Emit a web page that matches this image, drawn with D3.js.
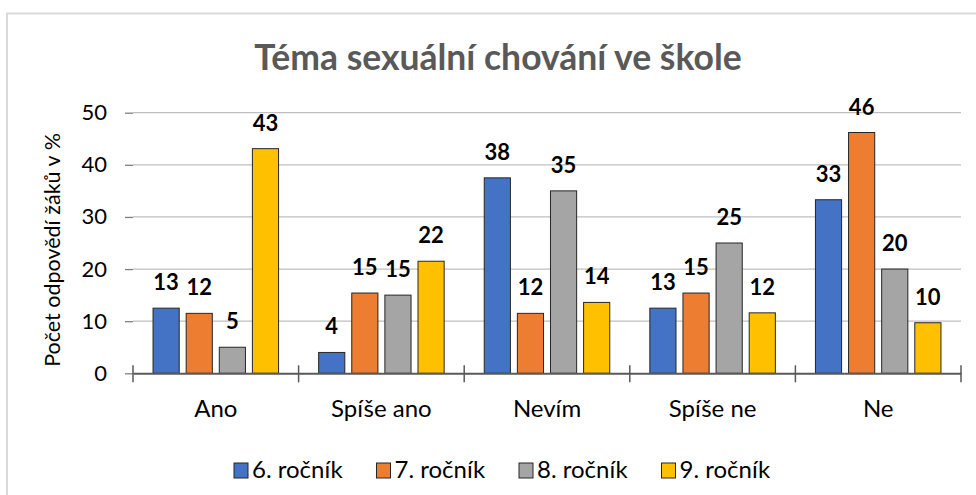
<!DOCTYPE html>
<html>
<head>
<meta charset="utf-8">
<script src="https://cdn.jsdelivr.net/npm/d3@7"></script>
<style>
  body { margin: 0; background: #fff; }
  svg { display: block; font-family: Lato, "Open Sans", sans-serif; }
</style>
</head>
<body>
<div id="chart"></div>
<script>
const width = 976;
const height = 495;

// data
const categories = ["Ano", "Spíše ano", "Nevím", "Spíše ne", "Ne"];
const seriesNames = ["6. ročník", "7. ročník", "8. ročník", "9. ročník"];
const grade6 = [12.5, 4.0, 37.5, 12.5, 33.3];
const grade7 = [11.5, 15.4, 11.5, 15.4, 46.2];
const grade8 = [5.0, 15.0, 35.0, 25.0, 20.0];
const grade9 = [43.1, 21.5, 13.6, 11.6, 9.7];
const yTicks = [0, 10, 20, 30, 40, 50];

const colors = ["#4472C4", "#ED7D31", "#A5A5A5", "#FFC000"];
const seriesValues = [grade6, grade7, grade8, grade9];

const svg = d3.select("#chart")
              .append("svg")
              .attr("width", width)
              .attr("height", height);

svg.append("rect")
   .attr("width", width).attr("height", height)
   .attr("fill", "#fff");

// chart area border
svg.append("rect")
   .attr("x", 7).attr("y", 13.5)
   .attr("width", 990).attr("height", 500)
   .attr("fill", "none")
   .attr("stroke", "#d9d9d9")
   .attr("stroke-width", 2);

const plotLeft = 133, plotRight = 961;
const y = d3.scaleLinear().domain([0, 50]).range([373.3, 112.7]);
const x0 = d3.scaleBand().domain(categories).range([plotLeft, plotRight]);
const x1 = d3.scaleBand()
             .domain(seriesNames)
             .range([x0.bandwidth() * 0.1, x0.bandwidth() * 0.9])
             .paddingInner(0.21)
             .paddingOuter(0.105);

// title
svg.append("text")
   .attr("x", 498).attr("y", 70)
   .attr("text-anchor", "middle")
   .attr("font-size", 35.5)
   .attr("font-weight", "bold")
   .attr("fill", "#595959")
   .text("Téma sexuální chování ve škole");

// gridlines
svg.append("g")
   .selectAll("line")
   .data(yTicks.filter(d => d > 0))
   .enter()
   .append("line")
   .attr("x1", plotLeft).attr("x2", plotRight)
   .attr("y1", d => y(d)).attr("y2", d => y(d))
   .attr("stroke", "#bfbfbf")
   .attr("stroke-width", 1.3);

// y axis
const yAxis = svg.append("g")
   .attr("transform", `translate(${plotLeft},0)`)
   .call(d3.axisLeft(y).tickValues(yTicks).tickSize(8).tickPadding(18));
yAxis.select(".domain").remove();
yAxis.selectAll(".tick line").attr("stroke", "#7f7f7f").attr("stroke-width", 1.3);
yAxis.selectAll(".tick text")
     .attr("font-size", 22)
     .attr("font-family", "Lato, sans-serif")
     .attr("fill", "#000");

// y axis title
svg.append("text")
   .attr("transform", "translate(60,250) rotate(-90)")
   .attr("text-anchor", "middle")
   .attr("font-size", 21.5)
   .attr("fill", "#000")
   .text("Počet odpovědí žáků v %");

// bars
const groups = svg.append("g")
   .selectAll("g")
   .data(categories)
   .enter()
   .append("g")
   .attr("transform", d => `translate(${x0(d)},0)`);

const cells = groups.selectAll("g")
   .data((c, ci) => seriesNames.map((s, si) => ({ s, si, v: seriesValues[si][ci] })))
   .enter()
   .append("g");

cells.append("rect")
   .attr("x", d => x1(d.s))
   .attr("y", d => y(d.v))
   .attr("width", x1.bandwidth())
   .attr("height", d => y(0) - y(d.v))
   .attr("fill", d => colors[d.si])
   .attr("stroke", "#262626")
   .attr("stroke-width", 1);

cells.append("text")
   .attr("x", d => x1(d.s) + x1.bandwidth() / 2)
   .attr("y", d => y(d.v) - 18)
   .attr("text-anchor", "middle")
   .attr("font-size", 22)
   .attr("font-weight", "bold")
   .attr("fill", "#000")
   .text(d => Math.round(d.v));

// x axis
const xAxis = svg.append("g")
   .attr("transform", `translate(0,${y(0)})`)
   .call(d3.axisBottom(x0).tickSize(0));
xAxis.select(".domain").attr("stroke", "#595959").attr("stroke-width", 2);
xAxis.selectAll(".tick text")
     .attr("y", 44)
     .attr("dy", null)
     .attr("font-size", 24)
     .attr("font-family", "Lato, sans-serif")
     .attr("fill", "#000");

const boundaries = categories.map(c => x0(c)).concat([plotRight]);
svg.append("g")
   .selectAll("line")
   .data(boundaries)
   .enter()
   .append("line")
   .attr("x1", d => d).attr("x2", d => d)
   .attr("y1", y(0) - 8).attr("y2", y(0) + 9)
   .attr("stroke", "#595959")
   .attr("stroke-width", 1.5);

// legend
const legend = svg.append("g")
   .selectAll("g")
   .data(seriesNames)
   .enter()
   .append("g")
   .attr("transform", (d, i) => `translate(${234 + i * 142.5},463)`);

legend.append("rect")
   .attr("width", 14).attr("height", 15)
   .attr("fill", (d, i) => colors[i])
   .attr("stroke", "#262626")
   .attr("stroke-width", 1);

legend.append("text")
   .attr("x", 18).attr("y", 15)
   .attr("font-size", 24)
   .attr("fill", "#000")
   .text(d => d);
</script>
</body>
</html>
